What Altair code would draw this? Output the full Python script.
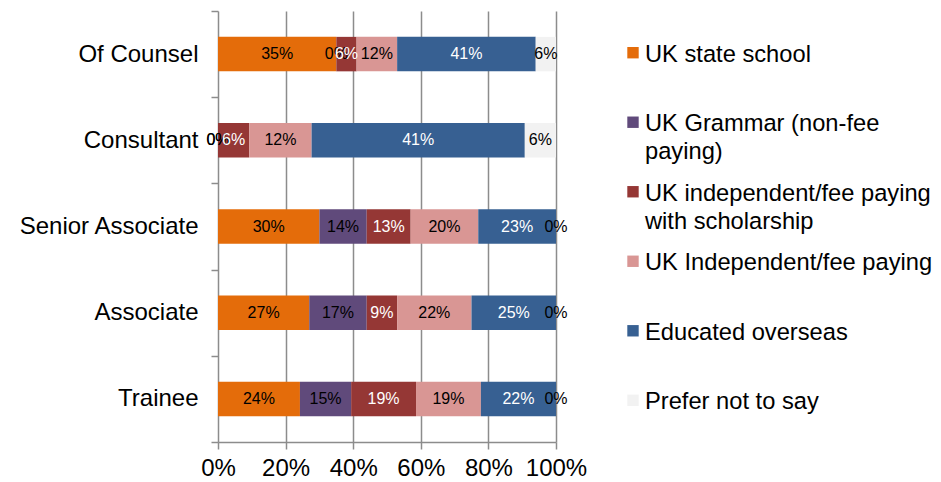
import altair as alt
import pandas as pd

# ---- data ----
roles = ["Of Counsel", "Consultant", "Senior Associate", "Associate", "Trainee"]
categories = [
    "UK state school",
    "UK Grammar (non-fee paying)",
    "UK independent/fee paying with scholarship",
    "UK Independent/fee paying",
    "Educated overseas",
    "Prefer not to say",
]
legend_labels = [
    "UK state school",
    "UK Grammar (non-fee\npaying)",
    "UK independent/fee paying\nwith scholarship",
    "UK Independent/fee paying",
    "Educated overseas",
    "Prefer not to say",
]
state_school = [35, 0, 30, 27, 24]
grammar = [0, 0, 14, 17, 15]
scholarship = [6, 6, 13, 9, 19]
independent = [12, 12, 20, 22, 19]
overseas = [41, 41, 23, 25, 22]
prefer_not = [6, 6, 0, 0, 0]
series = [state_school, grammar, scholarship, independent, overseas, prefer_not]

# ---- styles ----
colors = ["#E46C0A", "#604A7B", "#953735", "#D99694", "#376092", "#F2F2F2"]
text_colors = ["#000000", "#000000", "#FFFFFF", "#000000", "#FFFFFF", "#000000"]
FONT = "Liberation Sans"
GRID = "#8c8c8c"

rows = []
for ci, cat in enumerate(categories):
    for ri, role in enumerate(roles):
        rows.append(dict(role=role, cat=cat, idx=ci, value=series[ci][ri], tc=text_colors[ci]))
df = pd.DataFrame(rows)
leg = pd.DataFrame(dict(cat=categories, label=legend_labels, idx=list(range(len(categories)))))

ysc = alt.Scale(domain=roles, paddingInner=0, paddingOuter=0)
color_sc = alt.Scale(domain=categories, range=colors)

y_axis = alt.Axis(
    title=None, tickBand="extent", domain=False, ticks=True, tickSize=7,
    tickColor=GRID, tickWidth=1.5, labelFontSize=24, labelFont=FONT,
    labelColor="#000000", labelPadding=13, labelLimit=400,
)
x_axis = alt.Axis(
    title=None, format="%", values=[0, 0.2, 0.4, 0.6, 0.8, 1.0], grid=True,
    gridColor=GRID, gridWidth=1.5, domainColor=GRID, domainWidth=1.5,
    tickColor=GRID, tickWidth=1.5, tickSize=7, labelFontSize=24, labelFont=FONT,
    labelColor="#000000", labelPadding=7, labelFlush=False,
)
x_scale = alt.Scale(domain=[0, 1], nice=False)

base = alt.Chart(df).transform_stack(
    stack="value", groupby=["role"], as_=["x0", "x1"],
    sort=[alt.SortField("idx")], offset="normalize",
).transform_calculate(
    mid="(datum.x0 + datum.x1) / 2", lab="datum.value + '%'"
)

bars = base.mark_bar(height={"band": 0.4}).encode(
    y=alt.Y("role:N", scale=ysc, sort=roles, axis=y_axis),
    x=alt.X("x0:Q", scale=x_scale, axis=x_axis),
    x2="x1:Q",
    color=alt.Color("cat:N", scale=color_sc, legend=None),
)

labels = base.mark_text(fontSize=16, font=FONT).encode(
    y=alt.Y("role:N", scale=ysc, sort=roles, axis=y_axis),
    x=alt.X("mid:Q", scale=x_scale, axis=x_axis),
    text="lab:N",
    fill=alt.Fill("tc:N", scale=None, legend=None),
)

leg_y = alt.Y("cat:N", scale=alt.Scale(type="point", domain=categories, padding=0.6), axis=None)
leg_sq = alt.Chart(leg).mark_square(size=130, opacity=1).encode(
    y=leg_y,
    x=alt.value(415),
    color=alt.Color("cat:N", scale=color_sc, legend=None),
)
leg_tx = alt.Chart(leg).mark_text(
    align="left", baseline="top", dy=-10, fontSize=23.7, font=FONT,
    lineBreak="\n", lineHeight=28, color="#000000",
).encode(
    y=leg_y,
    x=alt.value(427),
    text="label:N",
)

main = alt.layer(bars, labels)
legend = alt.layer(leg_sq, leg_tx)

chart = alt.layer(main, legend).resolve_scale(y="independent").properties(
    width=338, height=431,
    autosize=alt.AutoSizeParams(type="none"),
    padding={"left": 210, "top": 3, "right": 376, "bottom": 45},
).configure_view(stroke=None)

chart.save("out.html", embed_options={"renderer": "svg", "actions": False})
